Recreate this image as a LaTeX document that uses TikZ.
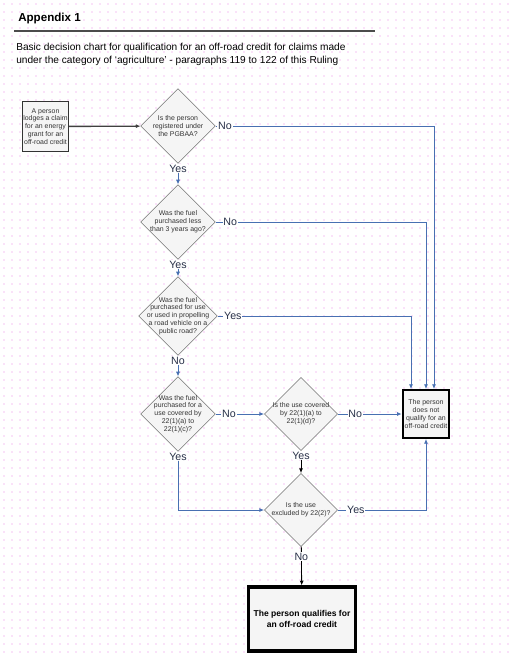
\documentclass[tikz,border=0pt]{standalone}
\usepackage{fontspec}
\setmainfont{Liberation Sans}
\usepackage{tikz}
\usetikzlibrary{positioning, arrows.meta, shapes.geometric}
\definecolor{flowblue}{RGB}{72,112,178}
\definecolor{ynblue}{RGB}{40,48,72}
\definecolor{gridpink}{RGB}{232,130,228}
\tikzset{qdmd/.style={diamond, draw=black!55, fill=black!4, inner sep=-8pt, minimum width=#1, minimum height=#1, align=center, text=black!80, font=\fontsize{5.2}{5.9}\selectfont}, qdmd/.default=56pt}
\tikzset{sbox/.style={rectangle, draw=black!80, line width=0.6pt, fill=black!4, inner sep=0pt, align=center, text=black!80, font=\fontsize{5.2}{5.9}\selectfont}}
\tikzset{nbox/.style={sbox, draw=black, line width=1.5pt, font=\fontsize{5.2}{6}\selectfont}}
\tikzset{okbox/.style={sbox, draw=black, line width=2.4pt, text=black, font=\bfseries\fontsize{6.4}{7.6}\selectfont}}
\tikzset{arrb/.style={draw, -{Latex[length=3.5pt, width=3pt]}, flowblue, line width=0.6pt}}
\tikzset{arrk/.style={draw, -{Latex[length=3.5pt, width=3pt]}, black, line width=0.6pt}}
\tikzset{yn/.style={font=\fontsize{8}{9}\selectfont, text=ynblue, fill=white, inner sep=0.6pt}}

\begin{document}
\begin{tikzpicture}[x=0.75pt, y=-0.75pt]
	\useasboundingbox (0,0) rectangle (512,658);
	% page grid
	\foreach \i in {0,...,63}
		\foreach \j in {0,...,81}
			\fill[gridpink] (\i*8+4, \j*8+4) circle (0.45pt);

	\node[anchor=west, inner sep=0pt, font=\bfseries\fontsize{8.7}{10}\selectfont] (title) at (18,18) {Appendix 1};
	\draw[line width=1pt, black!70] (14,31) -- (375,31);
	\node[anchor=north west, inner sep=0pt, align=left, font=\fontsize{7.6}{9.75}\selectfont] (intro) at (16,42.5)
		{Basic decision chart for qualification for an off-road credit for claims made\\
		under the category of ‘agriculture’ - paragraphs 119 to 122 of this Ruling};

	\node[sbox, minimum width=35pt, minimum height=37pt] (claim) at (45.5,126.5)
		{A person\\lodges a claim\\for an energy\\grant for an\\off-road credit};
	\node[qdmd] (reg) at (178,126) {Is the person\\registered under\\the PGBAA?};
	\node[qdmd] (age) at (178,222) {Was the fuel\\purchased less\\than 3 years ago?};
	\node[qdmd=59pt] (road) at (178,316)
		{Was the fuel\\purchased for use\\or used in propelling\\a road vehicle on a\\public road?};
	\node[qdmd] (cov) at (178,414)
		{Was the fuel\\purchased for a\\use covered by\\22(1)(a) to\\22(1)(c)?};
	\node[qdmd=55pt] (covd) at (301,414) {Is the use covered\\by 22(1)(a) to\\22(1)(d)?};
	\node[qdmd=55pt] (excl) at (301,510) {Is the use\\excluded by 22(2)?};
	\node[nbox, minimum width=35pt, minimum height=36pt] (notq) at (426,414)
		{The person\\does not\\qualify for an\\off-road credit};
	\node[okbox, minimum width=80pt, minimum height=48pt] (qual) at (302,619)
		{The person qualifies for\\an off-road credit};

	\draw[arrk, black!75, line width=1pt] (claim) -- (reg);
	\draw[arrb] (reg) -- node[yn, pos=0, anchor=north]{Yes} (age);
	\draw[arrb] (age) -- node[yn, pos=0, anchor=north]{Yes} (road);
	\draw[arrb] (road) -- node[yn, pos=0, anchor=north]{No} (cov);
	\draw[arrb] (cov) -- node[yn, pos=0, anchor=west, xshift=4pt]{No} (covd);
	\draw[arrb] (covd) -- node[yn, pos=0, anchor=west, xshift=7pt]{No} (notq);
	\draw[arrk] (covd) -- node[yn, pos=0, anchor=north]{Yes} (excl);
	\draw[arrk] (excl) -- node[yn, pos=0, anchor=north, yshift=-4pt]{No} (qual);
	\draw[arrb] (cov.south) |- node[yn, pos=0, anchor=north]{Yes} (excl.west);
	\draw[arrb] (excl.east) -| node[yn, pos=0, anchor=west, xshift=6pt]{Yes} (notq.south);
	% the three routes into the top of the box
	\draw[arrb] (reg.east) -| node[yn, pos=0, anchor=west, xshift=1pt]{No} ([xshift=6pt]notq.north);
	\draw[arrb] (age.east) -| node[yn, pos=0, anchor=west, xshift=5pt]{No} (notq.north);
	\draw[arrb] (road.east) -| node[yn, pos=0, anchor=west, xshift=4pt]{Yes} ([xshift=-11.25pt]notq.north);
\end{tikzpicture}
\end{document}
